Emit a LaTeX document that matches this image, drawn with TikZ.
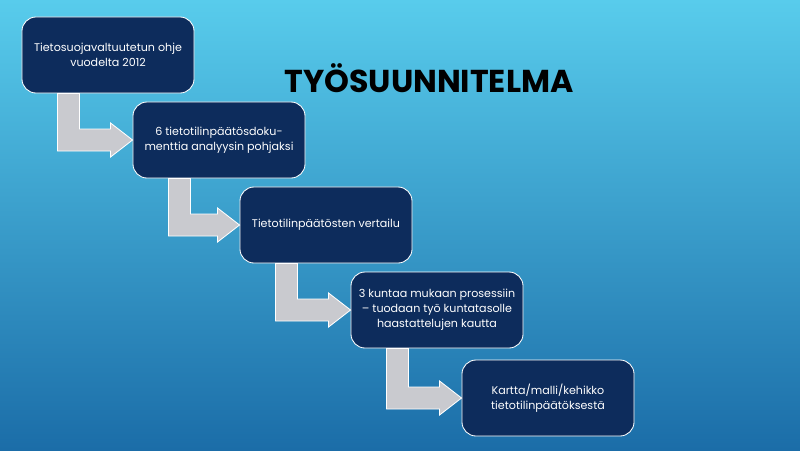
\documentclass[tikz,border=0pt]{standalone}
\usepackage{fontspec}
\setmainfont{Poppins}
\usepackage{xcolor}
\definecolor{slideTop}{HTML}{58CCEC}
\definecolor{slideBottom}{HTML}{1B6DA8}
\definecolor{stepNavy}{HTML}{0D2C5C}
\definecolor{stepArrow}{HTML}{C9CACF}
\usetikzlibrary{calc}

\tikzset{
  stepbox/.style={rectangle, rounded corners=10, draw=white, line width=0.6pt, fill=stepNavy,
    text=white, align=center, font=\fontsize{7.9}{10.8}\selectfont,
    minimum width=4.3cm, minimum height=1.9cm, inner sep=2pt},
  bentarrow/.style={fill=stepArrow, draw=white, line width=0.6pt, line join=miter}
}

% bent arrow from the bottom of #1 into the left side of #2
\newcommand{\bentArrow}[2]{%
  \coordinate (a) at ($(#1.south west)+(36,0)$);
  \coordinate (b) at ($(#1.south west)+(58,0)$);
  \coordinate (h) at ($(#2.west)+(-22,0)$);
  \draw[bentarrow] (a) -- (b) -- (b |- {$(h)+(0,-11)$}) -- ($(h)+(0,-11)$)
    -- ($(h)+(0,-17)$) -- (#2.west) -- ($(h)+(0,17)$) -- ($(h)+(0,11)$)
    -- (a |- {$(h)+(0,11)$}) -- cycle;}

\begin{document}
\begin{tikzpicture}[x=0.025cm, y=-0.025cm]
  \shade[top color=slideTop, bottom color=slideBottom] (0,0) rectangle (800,450);
  \node[font=\fontsize{22.5}{26}\selectfont\bfseries] (title) at (429,78) {TYÖSUUNNITELMA};
  \node[stepbox] (s1) at (108,55) {Tietosuojavaltuutetun ohje\\vuodelta 2012};
  \node[stepbox] (s2) at (219,140) {6 tietotilinpäätösdoku-\\menttia analyysin pohjaksi};
  \node[stepbox] (s3) at (326,225) {Tietotilinpäätösten vertailu};
  \node[stepbox] (s4) at (437,310) {3 kuntaa mukaan prosessiin\\– tuodaan työ kuntatasolle\\haastattelujen kautta};
  \node[stepbox] (s5) at (548,398) {Kartta/malli/kehikko\\tietotilinpäätöksestä};
  \bentArrow{s1}{s2}
  \bentArrow{s2}{s3}
  \bentArrow{s3}{s4}
  \bentArrow{s4}{s5}
\end{tikzpicture}
\end{document}
